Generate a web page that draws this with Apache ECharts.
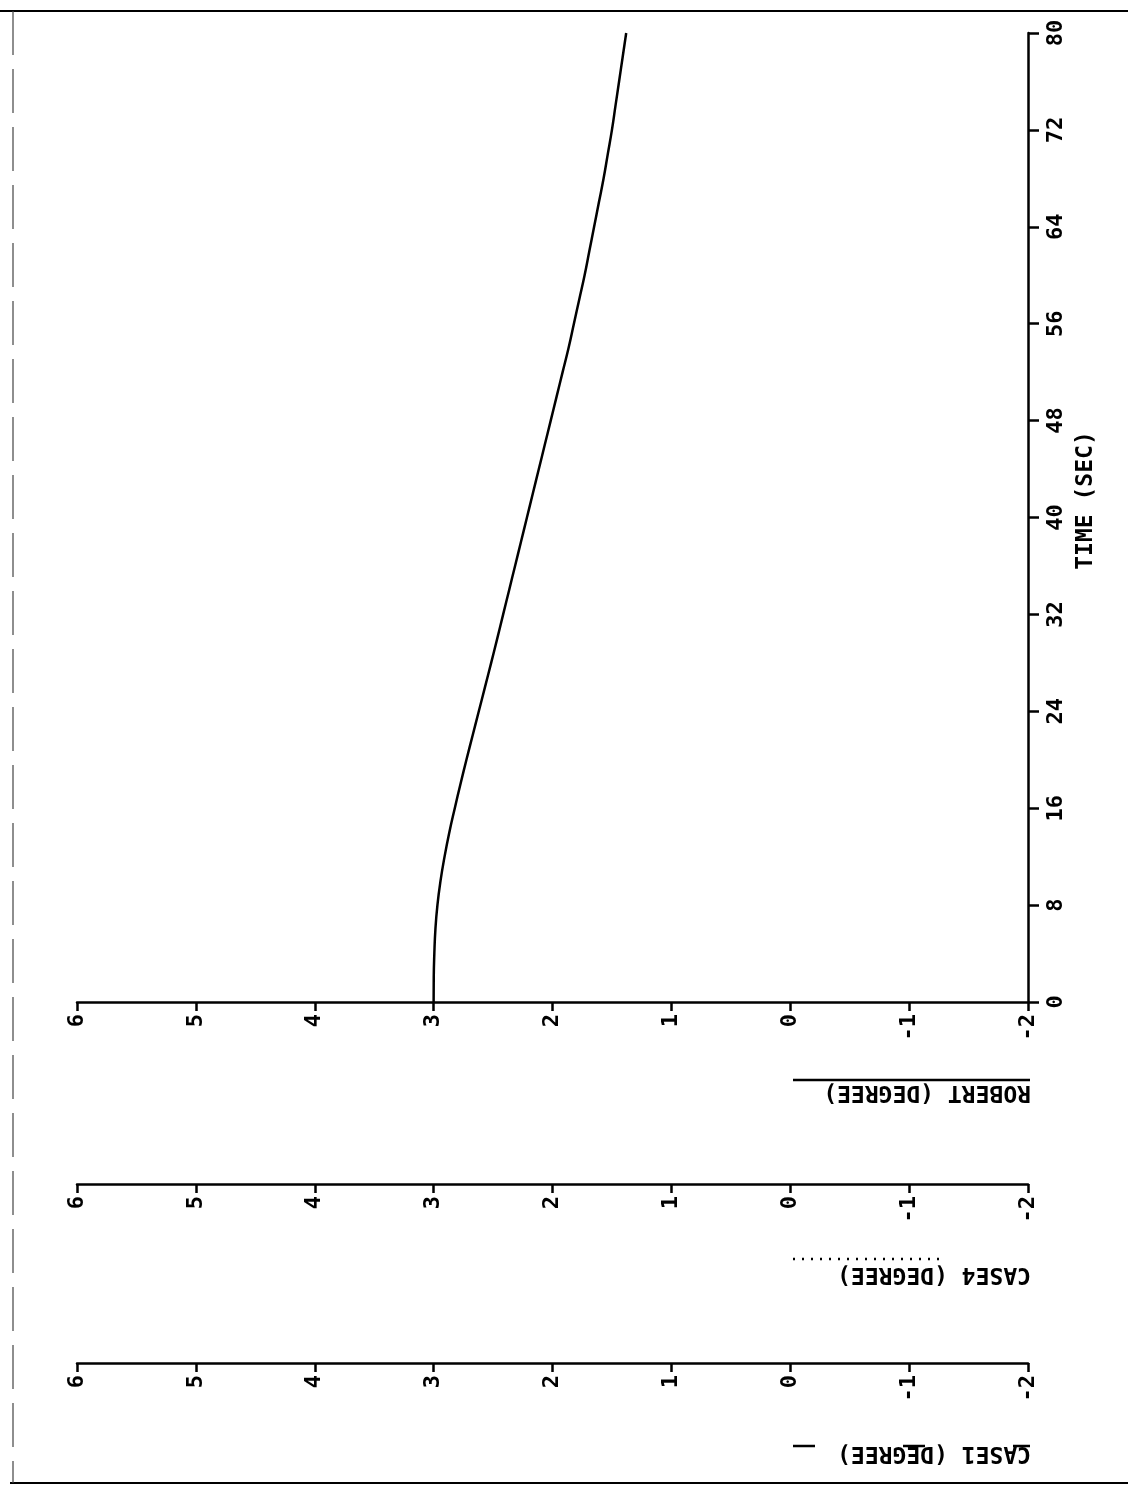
<!DOCTYPE html>
<html>
<head>
<meta charset="utf-8">
<script src="https://cdn.jsdelivr.net/npm/echarts@6/dist/echarts.min.js"></script>
<style>
  html, body { margin: 0; padding: 0; background: #ffffff; }
  #chart { width: 1128px; height: 1487px; }
</style>
</head>
<body>
<div id="chart"></div>
<script>
// Time samples (seconds) and the ROBERT response (degrees)
const timeSec = [0, 2, 4, 6, 8, 10, 12, 14, 16, 18, 20, 22, 24, 26, 28, 30, 32, 34, 36, 38, 40,
                 42, 44, 46, 48, 50, 52, 54, 56, 58, 60, 62, 64, 66, 68, 70, 72, 74, 76, 78, 80];
const robertDeg = [3.00, 2.999, 2.994, 2.985, 2.968, 2.942, 2.908, 2.868, 2.822, 2.774, 2.724,
                   2.672, 2.62, 2.568, 2.516, 2.465, 2.415, 2.365, 2.315, 2.265, 2.215,
                   2.165, 2.115, 2.065, 2.015, 1.965, 1.915, 1.865, 1.82, 1.775, 1.73,
                   1.69, 1.65, 1.61, 1.57, 1.535, 1.50, 1.47, 1.44, 1.41, 1.38];

// Axis ranges
const degMin = -2, degMax = 6, degStep = 1;
const timeMin = 0, timeMax = 80, timeStep = 8;

// The three stacked degree axes, top to bottom
const degAxisNames = ['ROBERT (DEGREE)', 'CASE4 (DEGREE)', 'CASE1 (DEGREE)'];
const degAxisStyles = ['solid', 'dotted', 'dashed'];
const degAxisOffsets = [0, 182, 361];

const INK = '#000000';
const MONO = '"DejaVu Sans Mono", "Liberation Mono", monospace';

const chart = echarts.init(document.getElementById('chart'), null, { renderer: 'canvas' });

const xAxes = degAxisOffsets.map(function (off) {
  return {
    type: 'value',
    min: degMin,
    max: degMax,
    interval: degStep,
    inverse: true,
    position: 'bottom',
    offset: off,
    axisLine: { show: true, onZero: false, lineStyle: { color: INK, width: 2.5 } },
    axisTick: { show: true, inside: false, length: 9, lineStyle: { color: INK, width: 2.5 } },
    axisLabel: {
      rotate: 90, margin: 12, color: INK,
      fontFamily: MONO, fontWeight: 'bold', fontSize: 22
    },
    splitLine: { show: false }
  };
});

const option = {
  backgroundColor: '#ffffff',
  animation: false,
  grid: { left: 77, right: 100, top: 33, bottom: 485, containLabel: false },
  xAxis: xAxes,
  yAxis: {
    type: 'value',
    min: timeMin,
    max: timeMax,
    interval: timeStep,
    position: 'right',
    name: 'TIME (SEC)',
    nameLocation: 'middle',
    nameRotate: 90,
    nameGap: 38,
    nameTextStyle: { color: INK, fontFamily: MONO, fontWeight: 'bold', fontSize: 23, padding: [0, 0, 0, 34] },
    axisLine: { show: true, onZero: false, lineStyle: { color: INK, width: 2.5 } },
    axisTick: { show: true, inside: false, length: 11, lineStyle: { color: INK, width: 2.5 } },
    axisLabel: {
      rotate: 90, margin: 17, color: INK,
      fontFamily: MONO, fontWeight: 'bold', fontSize: 22
    },
    splitLine: { show: false }
  },
  series: [{
    name: 'ROBERT',
    type: 'line',
    xAxisIndex: 0,
    yAxisIndex: 0,
    smooth: true,
    showSymbol: false,
    lineStyle: { color: INK, width: 2.5 },
    data: timeSec.map(function (t, i) { return [robertDeg[i], t]; })
  }]
};

chart.setOption(option);

// Axis titles (upside down) with their line-style keys, plus the page frame
const axisRight = chart.convertToPixel({ xAxisIndex: 0 }, degMin);
const axisBase = chart.convertToPixel({ yAxisIndex: 0 }, timeMin);
const keyLeft = axisRight - 235;

const graphics = [];
degAxisOffsets.forEach(function (off, i) {
  const lineY = axisBase + off;
  graphics.push({
    type: 'text',
    x: axisRight + 3,
    y: lineY + 90,
    rotation: Math.PI,
    style: {
      text: degAxisNames[i],
      fill: INK,
      font: 'bold 23px ' + MONO,
      align: 'left',
      verticalAlign: 'middle'
    }
  });
  let key;
  if (degAxisStyles[i] === 'solid') {
    key = { x1: keyLeft, x2: axisRight + 2, y: lineY + 78, dash: null };
  } else if (degAxisStyles[i] === 'dotted') {
    key = { x1: keyLeft, x2: keyLeft + 150, y: lineY + 75, dash: [2, 7] };
  } else {
    key = { x1: keyLeft, x2: axisRight + 2, y: lineY + 83, dash: [22, 88] };
  }
  graphics.push({
    type: 'line',
    shape: { x1: key.x1, y1: key.y, x2: key.x2, y2: key.y },
    style: { stroke: INK, lineWidth: 2.5, lineDash: key.dash }
  });
});

// page frame: top and bottom rules, broken left edge
graphics.push({ type: 'line', shape: { x1: 0, y1: 11, x2: 1128, y2: 11 }, style: { stroke: INK, lineWidth: 2 } });
graphics.push({ type: 'line', shape: { x1: 10, y1: 1483, x2: 1128, y2: 1483 }, style: { stroke: INK, lineWidth: 2 } });
graphics.push({ type: 'line', shape: { x1: 13, y1: 11, x2: 13, y2: 1483 }, style: { stroke: '#444444', lineWidth: 1.2, lineDash: [44, 14] } });

chart.setOption({ graphic: graphics });
</script>
</body>
</html>
